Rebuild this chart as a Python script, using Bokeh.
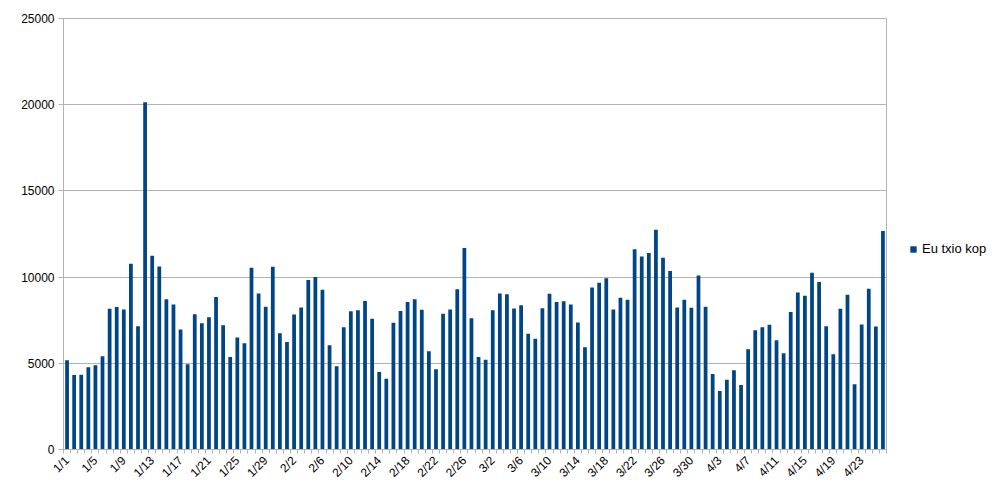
import math
from bokeh.plotting import figure
from bokeh.models import Range1d, FixedTicker, Legend, LegendItem, ColumnDataSource
from bokeh.embed import file_html
from bokeh.resources import INLINE

series_name = "Eu txio kop"

values = [5170, 4320, 4340, 4770, 4880, 5410, 8160, 8260, 8120, 10780,
          7150, 20140, 11240, 10620, 8720, 8410, 6960, 4940, 7850, 7330,
          7670, 8840, 7210, 5370, 6490, 6160, 10540, 9050, 8280, 10600,
          6740, 6240, 7830, 8240, 9830, 10000, 9260, 6050, 4830, 7090,
          8020, 8080, 8620, 7580, 4500, 4110, 7350, 8040, 8550, 8720,
          8100, 5700, 4650, 7870, 8120, 9300, 11690, 7620, 5370, 5210,
          8080, 9050, 9010, 8180, 8370, 6710, 6430, 8200, 9030, 8550,
          8600, 8410, 7360, 5930, 9400, 9670, 9940, 8120, 8800, 8680,
          11610, 11200, 11400, 12750, 11120, 10350, 8240, 8680, 8220, 10100,
          8280, 4380, 3390, 4050, 4590, 3740, 5810, 6920, 7090, 7230,
          6340, 5580, 7970, 9110, 8920, 10250, 9710, 7150, 5520, 8160,
          8970, 3780, 7250, 9320, 7130, 12680]

tick_labels = ["1/1", "1/5", "1/9", "1/13", "1/17", "1/21", "1/25", "1/29",
               "2/2", "2/6", "2/10", "2/14", "2/18", "2/22", "2/26",
               "3/2", "3/6", "3/10", "3/14", "3/18", "3/22", "3/26", "3/30",
               "4/3", "4/7", "4/11", "4/15", "4/19", "4/23"]
label_step = 4

y_ticks = [0, 5000, 10000, 15000, 20000, 25000]

x = list(range(len(values)))
tick_positions = [i * label_step for i in range(len(tick_labels))]
minor_positions = [i - 0.5 for i in range(len(values) + 1)]

source = ColumnDataSource(dict(x=x, v=values))

GRID = "#b3b3b3"
BAR = "#004586"
FONT = "Liberation Sans"

p = figure(frame_width=823, frame_height=431,
           min_border_left=63, min_border_right=110,
           min_border_top=18, min_border_bottom=46,
           x_range=Range1d(-0.5, len(values) - 0.5),
           y_range=Range1d(0, 25000),
           output_backend="svg", toolbar_location=None,
           background_fill_color="white", border_fill_color="white",
           outline_line_color=GRID)

r = p.vbar(x="x", top="v", width=0.53, source=source,
           fill_color=BAR, line_color=None)

# y axis
yax = p.yaxis[0]
yax.ticker = FixedTicker(ticks=y_ticks, minor_ticks=[])
yax.axis_line_color = GRID
yax.major_tick_line_color = GRID
yax.major_tick_out = 5
yax.major_tick_in = 0
yax.minor_tick_line_color = None
yax.major_label_standoff = 4
yax.major_label_text_font = FONT
yax.major_label_text_font_size = "12px"
yax.major_label_text_color = "#000000"

# x axis
xax = p.xaxis[0]
xax.ticker = FixedTicker(ticks=tick_positions, minor_ticks=minor_positions)
xax.major_label_overrides = {pos: lab for pos, lab in zip(tick_positions, tick_labels)}
xax.axis_line_color = GRID
xax.major_tick_line_color = None
xax.major_tick_out = 4
xax.major_tick_in = 0
xax.minor_tick_line_color = GRID
xax.minor_tick_out = 4
xax.minor_tick_in = 0
xax.major_label_orientation = math.pi / 4
xax.major_label_standoff = 5
xax.major_label_text_font = FONT
xax.major_label_text_font_size = "12px"
xax.major_label_text_color = "#000000"

p.xgrid.grid_line_color = None
p.ygrid.grid_line_color = GRID
p.ygrid.ticker = FixedTicker(ticks=y_ticks)

legend = Legend(items=[LegendItem(label=series_name, renderers=[r])],
                location=(23, 193),
                glyph_width=8, glyph_height=8, label_standoff=5,
                label_text_font=FONT, label_text_font_size="13px",
                label_text_color="#000000",
                padding=0, margin=0, spacing=0,
                border_line_color=None, background_fill_alpha=0)
p.add_layout(legend, "right")

open("out.html", "w").write(file_html(p, INLINE))
